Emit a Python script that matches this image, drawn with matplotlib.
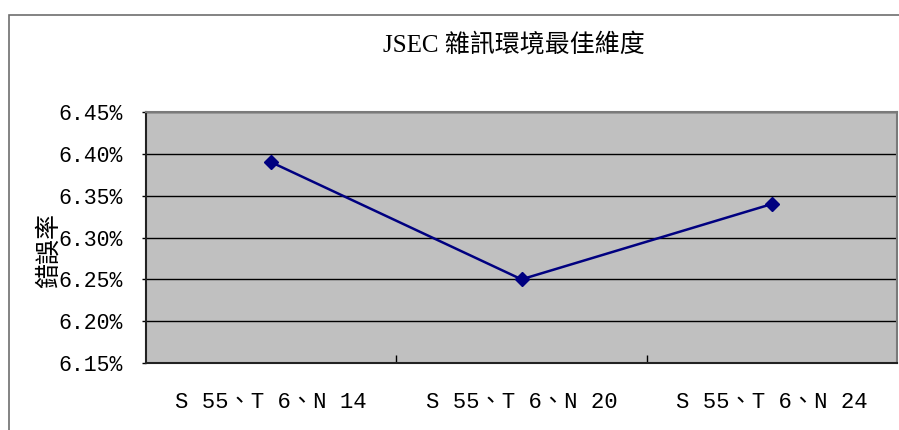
import matplotlib
matplotlib.use("Agg")
import matplotlib.pyplot as plt
from matplotlib.patches import Rectangle
from matplotlib.ticker import FixedLocator, FuncFormatter

# error rate (%) for each dimension setting
categories = ["S 55、T 6、N 14", "S 55、T 6、N 20", "S 55、T 6、N 24"]
error_rate = [6.39, 6.25, 6.34]
y_ticks = [6.15, 6.20, 6.25, 6.30, 6.35, 6.40, 6.45]

title = "JSEC 雜訊環境最佳維度"
y_label = "錯誤率"

title_fonts = ["Liberation Serif", "Noto Sans CJK TC"]
tick_fonts = ["Liberation Mono", "Noto Sans CJK TC"]

fig = plt.figure(figsize=(8.99, 4.30), dpi=100)
fig.patch.set_facecolor("white")

# chart frame (cut off on the right and bottom)
fig.patches.append(Rectangle((9 / 899, -0.2), 1.2, 0.2 + (430 - 15) / 430,
                             transform=fig.transFigure, fill=False,
                             edgecolor="#6e6e6e", linewidth=1.2))

ax = fig.add_axes([146 / 899, 67 / 430, 751 / 899, 251 / 430])
ax.set_facecolor("#c0c0c0")

x = list(range(len(categories)))
ax.plot(x, error_rate, color="#000080", linewidth=1.8, marker="D",
        markersize=7, markerfacecolor="#000080", markeredgecolor="#000080",
        zorder=3)

ax.set_xlim(-0.5, len(categories) - 0.5)
ax.set_ylim(y_ticks[0], y_ticks[-1])

ax.yaxis.set_major_locator(FixedLocator(y_ticks))
ax.yaxis.set_major_formatter(FuncFormatter(lambda v, p: f"{v:.2f}%"))
ax.grid(axis="y", color="black", linewidth=1.0)
ax.tick_params(axis="y", direction="out", length=3, width=1, pad=14,
               labelsize=15.5)

ax.set_xticks(x)
ax.set_xticklabels(categories)
ax.set_xticks([i + 0.5 for i in x[:-1]], minor=True)
ax.tick_params(axis="x", which="major", length=0, pad=21, labelsize=16)
ax.tick_params(axis="x", which="minor", direction="in", length=6, width=1)

for lbl in ax.get_xticklabels() + ax.get_yticklabels():
    lbl.set_family(tick_fonts)

for side in ["left", "bottom"]:
    ax.spines[side].set_color("#222222")
    ax.spines[side].set_linewidth(1.5)
for side in ["top", "right"]:
    ax.spines[side].set_color("#7a7a7a")
    ax.spines[side].set_linewidth(1.5)

fig.text(514 / 899, 1 - 45 / 430, title, ha="center", va="center",
         fontsize=18, family=title_fonts)
fig.text(49 / 899, 1 - 250 / 430, y_label, ha="center", va="center",
         rotation=90, fontsize=18, family=title_fonts)

fig.savefig("out.png", dpi=100)
